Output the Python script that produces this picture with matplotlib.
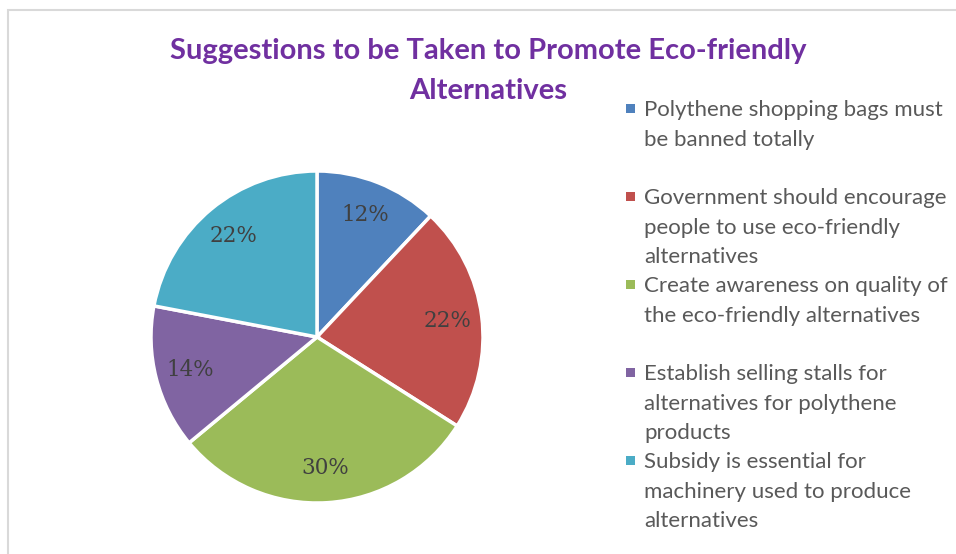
import matplotlib
matplotlib.use("Agg")
import matplotlib.pyplot as plt
from matplotlib.patches import Rectangle

# share of respondents per suggestion (%)
suggestions = [
    "Polythene shopping bags must\nbe banned totally",
    "Government should encourage\npeople to use eco-friendly\nalternatives",
    "Create awareness on quality of\nthe eco-friendly alternatives",
    "Establish selling stalls for\nalternatives for polythene\nproducts",
    "Subsidy is essential for\nmachinery used to produce\nalternatives",
]
shares = [12, 22, 30, 14, 22]
colors = ["#4F81BD", "#C0504D", "#9BBB59", "#8064A2", "#4BACC6"]

W, H = 956, 554
fig = plt.figure(figsize=(W / 100, H / 100), dpi=100)

# chart area border (runs off the right and bottom edge)
fig.patches.append(Rectangle((8 / W, -0.05), 1.1, 1.05 - 10 / H,
                             transform=fig.transFigure, fill=False,
                             edgecolor="#D9D9D9", linewidth=1.5))

cx, cy, r = 317, 337, 166
ax = fig.add_axes([(cx - r) / W, (H - cy - r) / H, 2 * r / W, 2 * r / H])
wedges, _, autotexts = ax.pie(
    shares, colors=colors, startangle=90, counterclock=False,
    autopct="%d%%", pctdistance=0.79,
    wedgeprops=dict(edgecolor="white", linewidth=2.5),
    textprops=dict(family="DejaVu Serif", fontsize=15.5, color="#404040"),
)
ax.set_xlim(-1, 1)
ax.set_ylim(-1, 1)
ax.set_aspect("equal")
ax.axis("off")

fig.text(488 / W, 1 - 51 / H, "Suggestions to be Taken to Promote Eco-friendly",
         ha="center", va="center", fontsize=21, fontweight="bold",
         family="Lato", color="#7030A0")
fig.text(488 / W, 1 - 91 / H, "Alternatives",
         ha="center", va="center", fontsize=21, fontweight="bold",
         family="Lato", color="#7030A0")

# legend, one block per slice
for i, (lab, col) in enumerate(zip(suggestions, colors)):
    ytop = 108 + 88 * i
    fig.patches.append(Rectangle((626 / W, 1 - (ytop + 5) / H), 9 / W, 9 / H,
                                 transform=fig.transFigure, facecolor=col,
                                 edgecolor="none"))
    fig.text(644 / W, 1 - (ytop - 8) / H, lab, ha="left", va="top",
             fontsize=16, family="Lato", color="#595959", linespacing=1.6)

fig.savefig("out.png", dpi=100, facecolor="white")
